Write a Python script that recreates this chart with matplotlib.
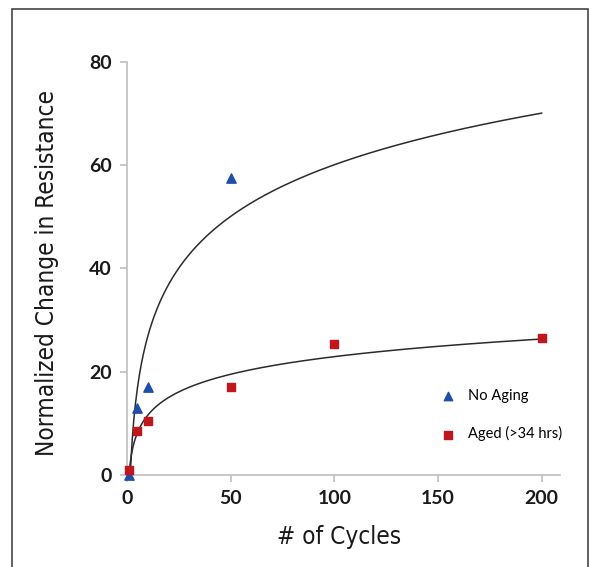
import numpy as np
import matplotlib.pyplot as plt
from matplotlib.patches import Rectangle

# cycles and normalized resistance change
cycles_fresh = [1, 5, 10, 50]
change_fresh = [0.0, 13.0, 17.0, 57.5]

cycles_aged = [1, 5, 10, 50, 100, 200]
change_aged = [1.0, 8.5, 10.5, 17.0, 25.3, 26.5]

x_ticks = [0, 50, 100, 150, 200]
y_ticks = [0, 20, 40, 60, 80]


def log_trend(x, y, x_new):
    # same as a logarithmic trendline: y = a*ln(x) + b
    a, b = np.polyfit(np.log(x), y, 1)
    return a * np.log(x_new) + b


if __name__ == "__main__":
    fig = plt.figure(figsize=(5.91, 5.67), dpi=100)
    ax = fig.add_axes([0.215, 0.1623, 0.733, 0.7284])

    grid = np.linspace(1, 200, 400)
    ax.plot(grid, log_trend(cycles_fresh, change_fresh, grid),
            color="#2b2b2b", lw=1.1, zorder=2)
    ax.plot(grid, log_trend(cycles_aged, change_aged, grid),
            color="#2b2b2b", lw=1.1, zorder=2)

    ax.scatter(cycles_fresh, change_fresh, marker="^", s=45,
               color="#1f4ea8", label="No Aging", zorder=3, clip_on=False)
    ax.scatter(cycles_aged, change_aged, marker="s", s=38,
               color="#c0161d", label="Aged (>34 hrs)", zorder=4, clip_on=False)

    ax.set_xlim(0, 209)
    ax.set_ylim(0, 80)
    ax.set_xticks(x_ticks)
    ax.set_yticks(y_ticks)

    for side in ["top", "right"]:
        ax.spines[side].set_visible(False)
    for side in ["left", "bottom"]:
        ax.spines[side].set_color("#bfbfbf")
        ax.spines[side].set_linewidth(1.2)
    ax.tick_params(colors="#bfbfbf", length=5, width=1.2,
                   labelcolor="#1a1a1a", labelsize=14, pad=6)
    for lbl in ax.get_xticklabels() + ax.get_yticklabels():
        lbl.set_family(["Lato", "DejaVu Sans"])
        lbl.set_weight("bold")

    ax.set_xlabel("# of Cycles", fontsize=17.5, family="DejaVu Sans",
                  stretch="condensed", color="#1a1a1a")
    ax.set_ylabel("Normalized Change in Resistance", fontsize=17.5,
                  family="DejaVu Sans", stretch="condensed", color="#1a1a1a")
    ax.xaxis.set_label_coords(0.49, -0.12)
    ax.yaxis.set_label_coords(-0.158, 0.49)

    ax.legend(loc="upper left", bbox_to_anchor=(0.676, 0.24), frameon=False,
              prop={"family": ["Lato", "DejaVu Sans"], "size": 10.5},
              labelspacing=1.6, handletextpad=0.4, markerscale=0.9)

    fig.patches.append(Rectangle((12 / 591, -0.1), 576 / 591, 1.1 - 9 / 567,
                                 transform=fig.transFigure, fill=False,
                                 edgecolor="#444444", lw=1.2))

    fig.savefig("out.png", dpi=100)
